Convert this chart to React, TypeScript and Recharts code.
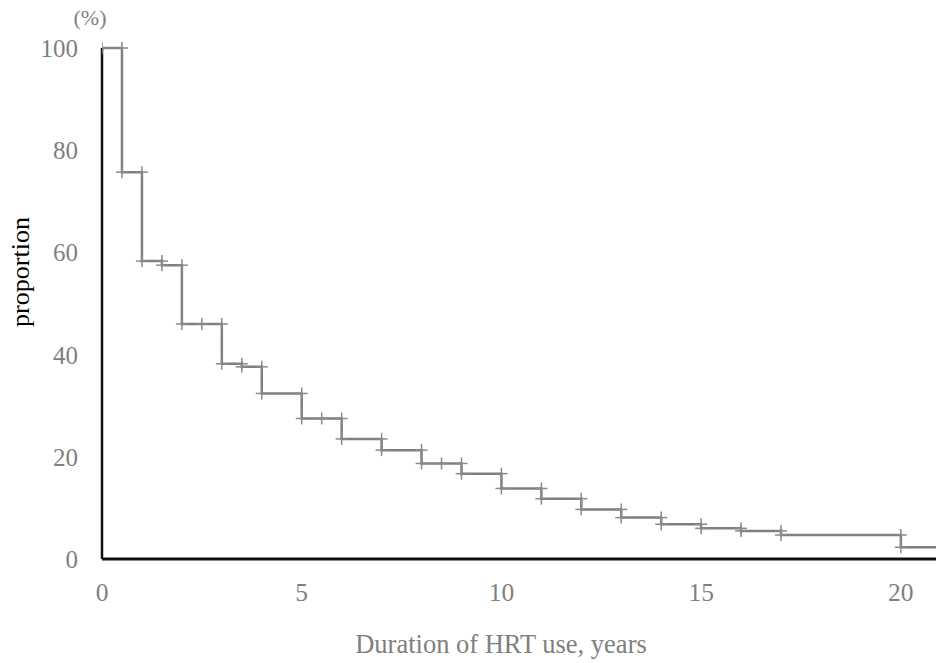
import React from "react";
import { LineChart, Line, XAxis, YAxis, Label } from "recharts";

// Kaplan-Meier style continuation of HRT use
const stepTimes = [0, 0.5, 1, 1.5, 2, 3, 3.5, 4, 5, 6, 7, 8, 9, 10, 11, 12, 13, 14, 15, 16, 17, 20];
const survival = [100, 75.7, 58.3, 57.5, 46.0, 38.2, 37.6, 32.4, 27.5, 23.5, 21.3, 18.7, 16.7, 13.8, 11.8, 9.7, 8.1, 6.8, 6.0, 5.5, 4.7, 2.3];
const censorTimes = [2.5, 5.5, 8.5];
const followUpEnd = 20.88;
const xTicks = [0, 5, 10, 15, 20];
const yTicks = [0, 20, 40, 60, 80, 100];

const xTitle = "Duration of HRT use, years";
const yTitle = "proportion";
const yUnit = "(%)";

type Pt = { t: number; p: number; mark: boolean };
const curve: Pt[] = [];
stepTimes.forEach((t, i) => {
  const level = survival[i];
  const last = i + 1 >= stepTimes.length;
  const next = last ? followUpEnd : stepTimes[i + 1];
  curve.push({ t, p: level, mark: true });
  censorTimes
    .filter((c) => c > t && c < next)
    .forEach((c) => curve.push({ t: c, p: level, mark: true }));
  curve.push({ t: next, p: level, mark: !last });
});

const FONT = "'Liberation Serif', 'Times New Roman', serif";
const GRAY = "#7f7f7f";

const XTick = (props: any) => {
  const { x, y, payload } = props;
  return (
    <text x={x} y={y + 42} textAnchor="middle" fill={GRAY} fontSize={25.5} fontFamily={FONT}>
      {payload.value}
    </text>
  );
};

const YTick = (props: any) => {
  const { x, y, payload } = props;
  return (
    <text x={x - 24} y={y + 9} textAnchor="end" fill={GRAY} fontSize={25} fontFamily={FONT}>
      {payload.value}
    </text>
  );
};

const PlusDot = (props: any) => {
  const { cx, cy, payload, index } = props;
  if (!payload || !payload.mark || cx == null || cy == null) return <g key={`d${index}`} />;
  return (
    <g key={`d${index}`}>
      <line x1={cx - 6} x2={cx + 6} y1={cy} y2={cy} stroke="#8a8a8a" strokeWidth={1.5} />
      <line x1={cx} x2={cx} y1={cy - 6} y2={cy + 6} stroke="#8a8a8a" strokeWidth={1.5} />
    </g>
  );
};

export default function App() {
  return (
    <div style={{ position: "absolute", left: 0, top: 0, width: 936, height: 663, background: "#fff" }}>
      <LineChart width={936} height={663} data={curve} margin={{ top: 48, right: 0, bottom: 0, left: 0 }}>
        <XAxis
          type="number"
          dataKey="t"
          domain={[0, followUpEnd]}
          ticks={xTicks}
          allowDataOverflow
          height={104}
          tickSize={0}
          tickMargin={0}
          tickLine={false}
          axisLine={{ stroke: "#111", strokeWidth: 2.8 }}
          tick={<XTick />}
        >
          <Label
            content={(p: any) => {
              const vb = p.viewBox;
              return (
                <text x={vb.x + 399} y={vb.y + 94} textAnchor="middle" fill={GRAY} fontSize={26.5} fontFamily={FONT}>
                  {xTitle}
                </text>
              );
            }}
          />
        </XAxis>
        <YAxis
          type="number"
          dataKey="p"
          domain={[0, 100]}
          ticks={yTicks}
          width={102}
          tickSize={0}
          tickMargin={0}
          tickLine={false}
          axisLine={{ stroke: "#111", strokeWidth: 2.5 }}
          tick={<YTick />}
        >
          <Label
            content={() => {
              const cy = 272;
              return (
                <g>
                  <text x={90} y={25} textAnchor="middle" fill={GRAY} fontSize={22} fontFamily={FONT}>
                    {yUnit}
                  </text>
                  <text
                    x={29}
                    y={cy}
                    transform={`rotate(-90 29 ${cy})`}
                    textAnchor="middle"
                    fill="#000"
                    fontSize={26}
                    fontFamily={FONT}
                  >
                    {yTitle}
                  </text>
                </g>
              );
            }}
          />
        </YAxis>
        <Line
          type="linear"
          dataKey="p"
          stroke={GRAY}
          strokeWidth={2.5}
          dot={<PlusDot />}
          activeDot={false}
          isAnimationActive={false}
        />
      </LineChart>
    </div>
  );
}
